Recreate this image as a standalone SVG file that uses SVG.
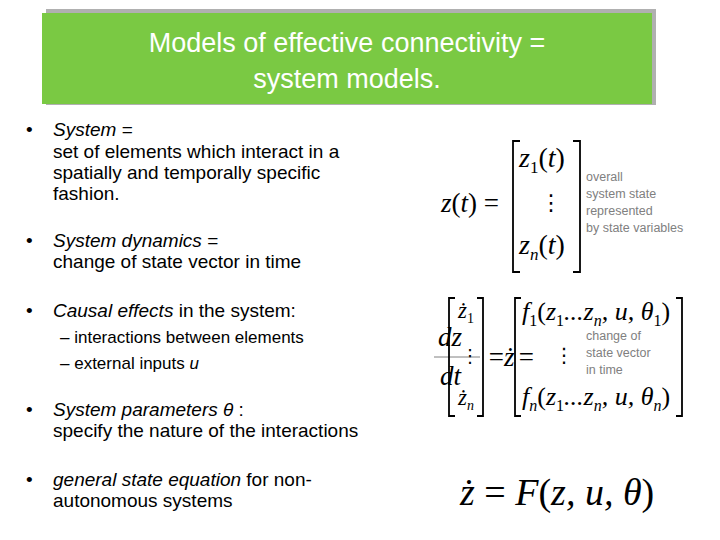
<svg xmlns="http://www.w3.org/2000/svg" width="720" height="540" viewBox="0 0 720 540">
<style>
.b{font-family:"Liberation Sans",Arial,sans-serif;font-size:19px;fill:#000}
.s{font-family:"Liberation Sans",Arial,sans-serif;font-size:17px;fill:#000}
.g{font-family:"Liberation Sans",Arial,sans-serif;font-size:12.5px;fill:#808080}
.m{font-family:"Liberation Serif","Times New Roman",serif;font-style:italic;fill:#000}
.v{font-family:"DejaVu Sans",sans-serif;fill:#000}
.br{fill:none;stroke:#000;stroke-width:1.8}
</style>
<rect width="720" height="540" fill="#fff"/>
<g id="title">
<rect x="46" y="9" width="610" height="96" fill="#b0b0b0"/>
<rect x="42" y="13" width="610" height="91" fill="#7ac943"/>
<text x="347" y="52" text-anchor="middle" font-family="Liberation Sans,Arial,sans-serif" font-size="27" fill="#fff">Models of effective connectivity =</text>
<text x="347" y="88" text-anchor="middle" font-family="Liberation Sans,Arial,sans-serif" font-size="27" fill="#fff">system models.</text>
</g>
<g id="bullets">
<text class="b" x="26" y="136">•</text>
<text class="b" x="53" y="136"><tspan font-style="italic">System</tspan> =</text>
<text class="b" x="53" y="158">set of elements which interact in a</text>
<text class="b" x="53" y="179">spatially and temporally specific</text>
<text class="b" x="53" y="200">fashion.</text>
<text class="b" x="26" y="247">•</text>
<text class="b" x="53" y="247"><tspan font-style="italic">System dynamics</tspan> =</text>
<text class="b" x="53" y="268">change of state vector in time</text>
<text class="b" x="26" y="317">•</text>
<text class="b" x="53" y="317"><tspan font-style="italic">Causal effects</tspan> in the system:</text>
<text class="s" x="60" y="343">– interactions between elements</text>
<text class="s" x="60" y="369">– external inputs <tspan font-style="italic">u</tspan></text>
<text class="b" x="26" y="416">•</text>
<text class="b" x="53" y="416"><tspan font-style="italic">System parameters θ</tspan> :</text>
<text class="b" x="53" y="437">specify the nature of the interactions</text>
<text class="b" x="26" y="486">•</text>
<text class="b" x="53" y="486"><tspan font-style="italic">general state equation</tspan> for non-</text>
<text class="b" x="53" y="507">autonomous systems</text>
</g>
<g id="eq1">
<text class="m" x="441" y="212" font-size="27">z<tspan font-style="normal">(</tspan>t<tspan font-style="normal">) =</tspan></text>
<path class="br" d="M520 141h-7v131h7M573 141h7v131h-7"/>
<text class="m" x="519" y="167" font-size="28">z<tspan font-size="17" dy="6" font-style="normal">1</tspan><tspan dy="-6" font-style="normal">(</tspan>t<tspan font-style="normal">)</tspan></text>
<text class="v" x="540" y="210" font-size="22">⋮</text>
<text class="m" x="519" y="254" font-size="28">z<tspan font-size="17" dy="6">n</tspan><tspan dy="-6" font-style="normal">(</tspan>t<tspan font-style="normal">)</tspan></text>
<text class="g" x="586" y="181">overall</text>
<text class="g" x="586" y="198">system state</text>
<text class="g" x="586" y="215">represented</text>
<text class="g" x="586" y="232">by state variables</text>
</g>
<g id="eq2">
<text class="m" x="438" y="346" font-size="27">dz</text>
<line x1="434" y1="357" x2="480" y2="357" stroke="#808080" stroke-width="1"/>
<text class="m" x="440" y="385" font-size="27">dt</text>
<path class="br" d="M455 298h-6v118h6M477 298h6v118h-6"/>
<text class="m" x="458" y="318" font-size="23">ż<tspan font-size="14" dy="5" font-style="normal">1</tspan></text>
<text class="v" x="461" y="362" font-size="18">⋮</text>
<text class="m" x="458" y="405" font-size="23">ż<tspan font-size="14" dy="5">n</tspan></text>
<text class="m" x="487" y="366" font-size="27" font-style="normal">=</text>
<text class="m" x="504" y="366" font-size="27">ż</text>
<text class="m" x="517" y="366" font-size="27" font-style="normal">=</text>
<path class="br" d="M521 298h-6v118h6M676 298h6v118h-6"/>
<text class="m" x="522" y="320" font-size="26">f<tspan font-size="16" dy="6" font-style="normal">1</tspan><tspan dy="-6" font-style="normal">(</tspan>z<tspan font-size="16" dy="6" font-style="normal">1</tspan><tspan dy="-6">...z</tspan><tspan font-size="16" dy="6">n</tspan><tspan dy="-6">, u, θ</tspan><tspan font-size="16" dy="6" font-style="normal">1</tspan><tspan dy="-6" font-style="normal">)</tspan></text>
<text class="v" x="554" y="362" font-size="20">⋮</text>
<text class="m" x="522" y="405" font-size="26">f<tspan font-size="16" dy="6">n</tspan><tspan dy="-6" font-style="normal">(</tspan>z<tspan font-size="16" dy="6" font-style="normal">1</tspan><tspan dy="-6">...z</tspan><tspan font-size="16" dy="6">n</tspan><tspan dy="-6">, u, θ</tspan><tspan font-size="16" dy="6">n</tspan><tspan dy="-6" font-style="normal">)</tspan></text>
<text class="g" x="586" y="340">change of</text>
<text class="g" x="586" y="357">state vector</text>
<text class="g" x="586" y="374">in time</text>
</g>
<g id="eq3">
<text class="m" x="460" y="505" font-size="38">ż <tspan font-style="normal">=</tspan> F<tspan font-style="normal">(</tspan>z, u, θ<tspan font-style="normal">)</tspan></text>
</g>
</svg>
